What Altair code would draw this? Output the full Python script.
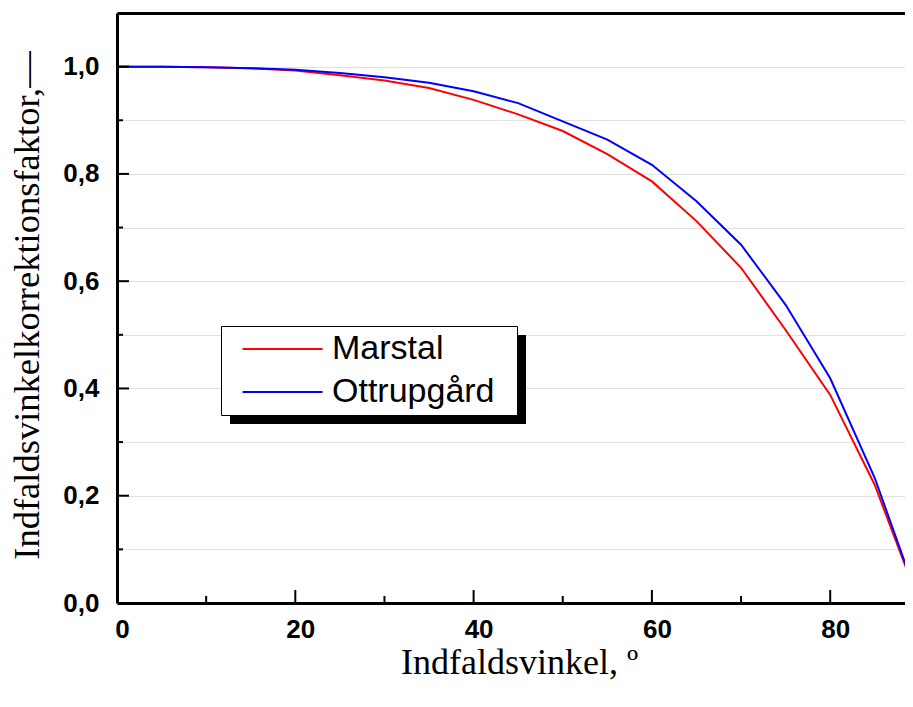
import altair as alt
import pandas as pd

# ---- data ----
angles = [0, 5, 10, 15, 20, 25, 30, 35, 40, 45, 50, 55, 60, 65, 70, 75, 80, 85, 90]
marstal = [1.0, 1.0, 0.999, 0.997, 0.993, 0.984, 0.974, 0.960, 0.938, 0.911,
           0.880, 0.837, 0.786, 0.712, 0.625, 0.509, 0.388, 0.220, 0.0]
ottrup = [1.0, 1.0, 0.999, 0.997, 0.994, 0.988, 0.980, 0.970, 0.954, 0.932,
          0.898, 0.864, 0.817, 0.749, 0.668, 0.556, 0.419, 0.233, 0.0]
series_names = ["Marstal", "Ottrupgård"]
series_colors = ["#ff0000", "#0000ff"]

x_labels = [0, 20, 40, 60, 80]
x_major = [20, 40, 60, 80]
x_minor = [10, 30, 50, 70]
y_grid = [0.0, 0.1, 0.2, 0.3, 0.4, 0.5, 0.6, 0.7, 0.8, 0.9, 1.0, 1.1]
y_major = [0.2, 0.4, 0.6, 0.8, 1.0]
y_minor = [0.1, 0.3, 0.5, 0.7, 0.9]

W, H = 788, 590
X_MAX = 88.39  # visible part of the 0-90 degree axis

rows = []
for name, vals in zip(series_names, [marstal, ottrup]):
    for a, v in zip(angles, vals):
        rows.append({"angle": a, "value": v, "series": name})
df = pd.DataFrame(rows)

xscale = alt.Scale(domain=[0, X_MAX], nice=False, zero=False)
yscale = alt.Scale(domain=[0, 1.1], nice=False, zero=False)

x_axis = alt.Axis(
    values=x_labels, ticks=False, tickSize=0, grid=False,
    domainColor="black", domainWidth=3,
    labelFont="Liberation Sans", labelFontWeight="bold", labelFontSize=26,
    labelColor="black", labelPadding=13, labelOffset=5, labelFlush=False,
    labelOverlap=False,
    title="Indfaldsvinkel, º", titleFont="Liberation Serif", titleFontSize=36,
    titleFontWeight="normal", titleColor="black", titlePadding=3,
    titleX=402,
)
y_axis = alt.Axis(
    values=y_grid, ticks=False, tickSize=0, grid=True,
    gridColor={"condition": {"test": "datum.value > 1.05", "value": "black"}, "value": "#e0e0e0"},
    gridWidth={"condition": {"test": "datum.value > 1.05", "value": 3}, "value": 1},
    domainColor="black", domainWidth=3,
    labelExpr="(round(datum.value*10) % 2 == 0 && datum.value < 1.05) ? replace(format(datum.value, '.1f'), '.', ',') : ''",
    labelFont="Liberation Sans", labelFontWeight="bold", labelFontSize=26,
    labelColor="black", labelPadding=18, labelFlush=False, labelOverlap=False,
    title="Indfaldsvinkelkorrektionsfaktor,—", titleFont="Liberation Serif",
    titleFontSize=36.5, titleFontWeight="normal", titleColor="black", titlePadding=16,
    titleY=292,
)

legend = alt.Legend(
    orient="none", legendX=104, legendY=313, title=None,
    fillColor="white", strokeColor="black", padding=6, rowPadding=9,
    symbolType="M-4,0H4M22.4,0", symbolSize=400, symbolStrokeWidth=2,
    symbolOffset=38.5, labelOffset=32.5, labelLimit=400,
    labelFont="Liberation Sans", labelFontSize=34, labelColor="black",
)

lines = alt.Chart(df).mark_line(strokeWidth=2, clip=True).encode(
    x=alt.X("angle:Q", scale=xscale, axis=x_axis),
    y=alt.Y("value:Q", scale=yscale, axis=y_axis),
    color=alt.Color("series:N", scale=alt.Scale(domain=series_names, range=series_colors), legend=legend),
)

ytick_major = alt.Chart(pd.DataFrame({"value": y_major})).mark_rule(color="black", strokeWidth=2).encode(
    y="value:Q", x=alt.value(0), x2=alt.value(12))
ytick_minor = alt.Chart(pd.DataFrame({"value": y_minor})).mark_rule(color="black", strokeWidth=2).encode(
    y="value:Q", x=alt.value(0), x2=alt.value(6))
xtick_major = alt.Chart(pd.DataFrame({"angle": x_major})).mark_rule(color="black", strokeWidth=2).encode(
    x="angle:Q", y=alt.value(H), y2=alt.value(H - 13))
xtick_minor = alt.Chart(pd.DataFrame({"angle": x_minor})).mark_rule(color="black", strokeWidth=2).encode(
    x="angle:Q", y=alt.value(H), y2=alt.value(H - 7))

shadow = alt.Chart(pd.DataFrame({"s": [0]})).mark_rect(color="black").encode(
    x=alt.value(113), x2=alt.value(409), y=alt.value(322), y2=alt.value(411))

chart = alt.layer(shadow, lines, ytick_major, ytick_minor, xtick_major, xtick_minor).properties(
    width=W, height=H,
    autosize=alt.AutoSizeParams(type="none"),
    padding={"left": 109, "top": 5, "right": 0, "bottom": 94},
).configure_view(stroke=None).configure_legend(strokeWidth=1.5).configure(background="white")

chart.save("out.html", embed_options={"renderer": "svg", "actions": False})
